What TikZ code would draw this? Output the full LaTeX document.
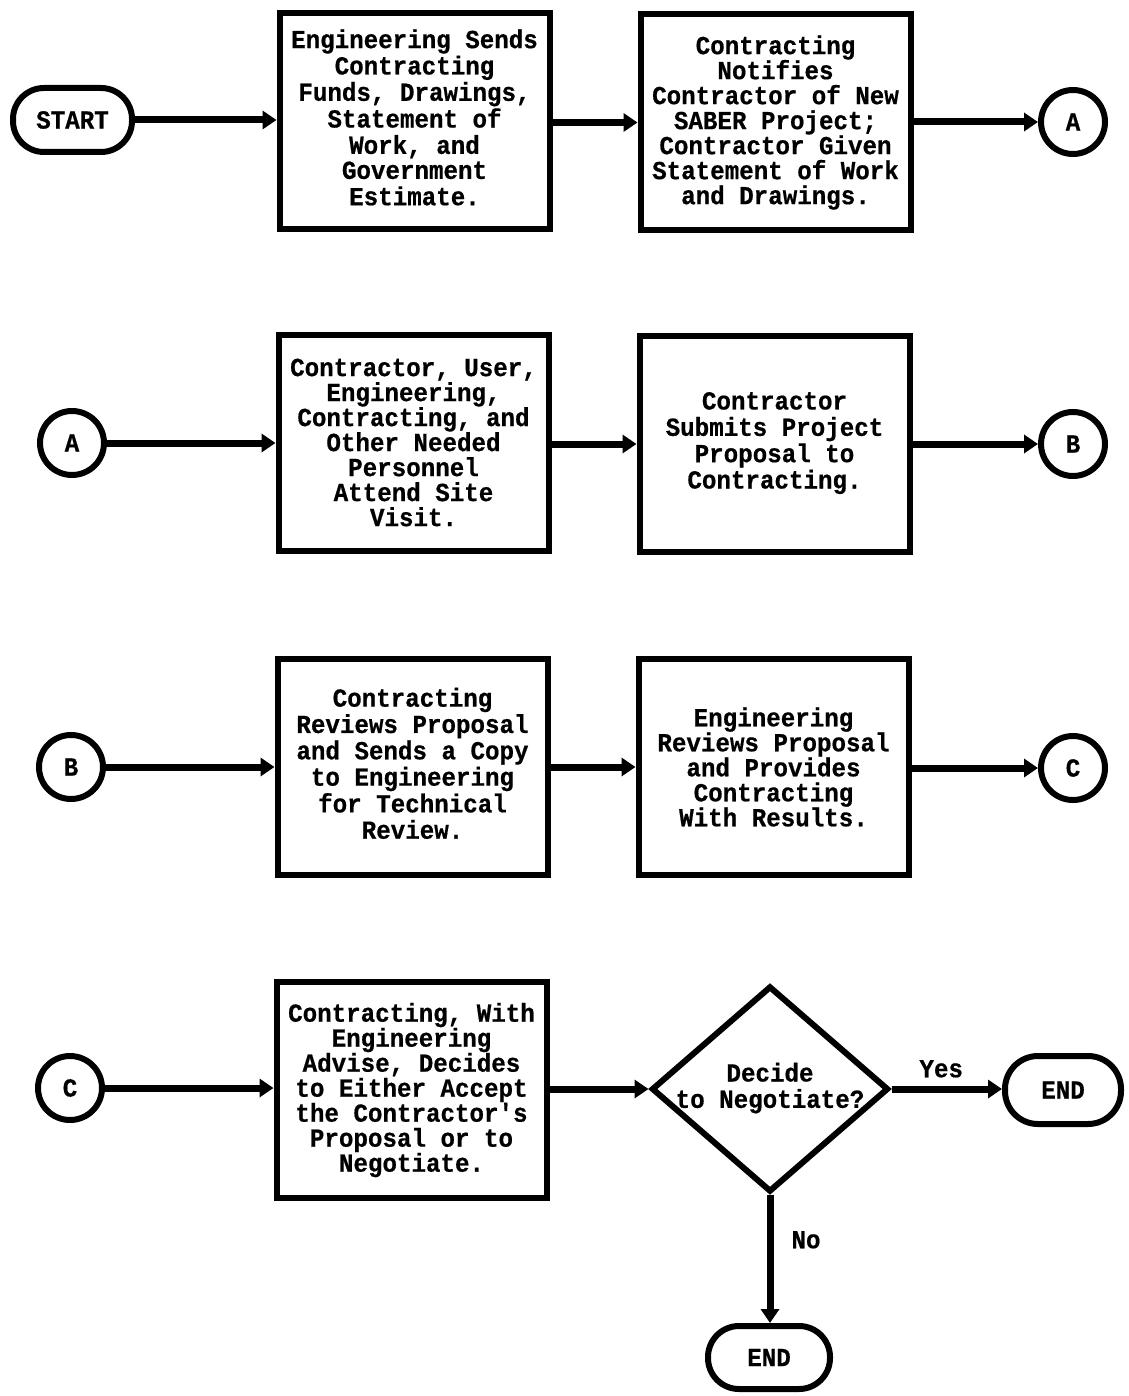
\documentclass[tikz,border=0pt]{standalone}
\usepackage{fontspec}
\setmainfont{Liberation Mono}[FakeStretch=0.93,FakeBold=0.6,Ligatures=TeXOff]
\usetikzlibrary{arrows.meta,shapes.geometric}
\newcommand\mlines[1]{\begin{tabular}{@{}c@{}}#1\end{tabular}}
\begin{document}
\begin{tikzpicture}[x=1pt,y=-1pt,
  every node/.style={font=\bfseries\fontsize{26}{25}\selectfont, inner sep=0pt},
  procbox/.style={draw, line width=6pt, minimum width=270pt, minimum height=216pt, align=center},
  conn/.style={draw, circle, line width=6pt, minimum size=64pt},
  term/.style={draw, line width=6pt, rounded corners=31pt},
  decide/.style={draw, diamond, line width=6pt, minimum width=237pt, minimum height=206pt},
  arr/.style={line width=7pt, -{Triangle[length=14pt,width=18pt]}},
  lbl/.style={}]
\useasboundingbox (0,0) rectangle (1128,1396);
\fill[white] (0,0) rectangle (1128,1396);

% Row 1
\node[term, minimum width=119pt, minimum height=64pt] (start) at (72.5,120) {START};
\node[procbox] (b1) at (414.5,121) {\raisebox{-2pt}{\mlines{Engineering Sends\\Contracting\\Funds, Drawings,\\Statement of\\Work, and\\Government\\Estimate.}}};
\node[procbox] (b2) at (775.5,122.5) {Contracting\\Notifies\\Contractor of New\\SABER Project;\\Contractor Given\\Statement of Work\\and Drawings.};
\node[conn] (a1) at (1073,122) {A};

% Row 2
\node[conn] (a2) at (72,443) {A};
\node[procbox] (b3) at (413.5,442.5) {Contractor, User,\\Engineering,\\Contracting, and\\Other Needed\\Personnel\\Attend Site\\Visit.};
\node[procbox] (b4) at (774.5,444) {\raisebox{12pt}{\mlines{Contractor\\Submits Project\\Proposal to\\Contracting.}}};
\node[conn] (bb1) at (1073,444) {B};

% Row 3
\node[conn] (bb2) at (71,767) {B};
\node[procbox] (b5) at (412.5,767) {\raisebox{13pt}{\mlines{Contracting\\Reviews Proposal\\and Sends a Copy\\to Engineering\\for Technical\\Review.}}};
\node[procbox] (b6) at (773.5,767) {Engineering\\Reviews Proposal\\and Provides\\Contracting\\With Results.};
\node[conn] (c1) at (1073,768) {C};

% Row 4
\node[conn] (c2) at (70,1088) {C};
\node[procbox] (b7) at (411.5,1090) {Contracting, With\\Engineering\\Advise, Decides\\to Either Accept\\the Contractor's\\Proposal or to\\Negotiate.};
\node[decide] (d) at (770,1089) {\raisebox{12pt}{\makebox[0pt]{\mlines{Decide\\to Negotiate?}}}};
\node[term, minimum width=116pt, minimum height=68pt, rounded corners=33pt] (end1) at (1063,1090) {END};
\node[term, minimum width=122pt, minimum height=63pt] (end2) at (769,1357.5) {END};

% Connectors
\draw[arr] (start.east) -- (start.east -| b1.west);
\draw[arr] (b1.east |- b2.west) -- (b2.west);
\draw[arr] (b2.east |- a1.west) -- (a1.west);
\draw[arr] (a2.east) -- (a2.east -| b3.west);
\draw[arr] (b3.east |- b4.west) -- (b4.west);
\draw[arr] (b4.east |- bb1.west) -- (bb1.west);
\draw[arr] (bb2.east) -- (bb2.east -| b5.west);
\draw[arr] (b5.east) -- (b5.east -| b6.west);
\draw[arr] (b6.east |- c1.west) -- (c1.west);
\draw[arr] (c2.east) -- (c2.east -| b7.west);
\draw[arr] (b7.east |- d.west) -- (d.west);
\draw[arr] (d.east) -- (d.east -| end1.west) node[lbl, pos=0.45, above=8pt] {Yes};
\draw[arr] (d.south) -- (d.south |- end2.north) node[lbl, pos=0.35, right=18pt] {No};
\end{tikzpicture}
\end{document}
